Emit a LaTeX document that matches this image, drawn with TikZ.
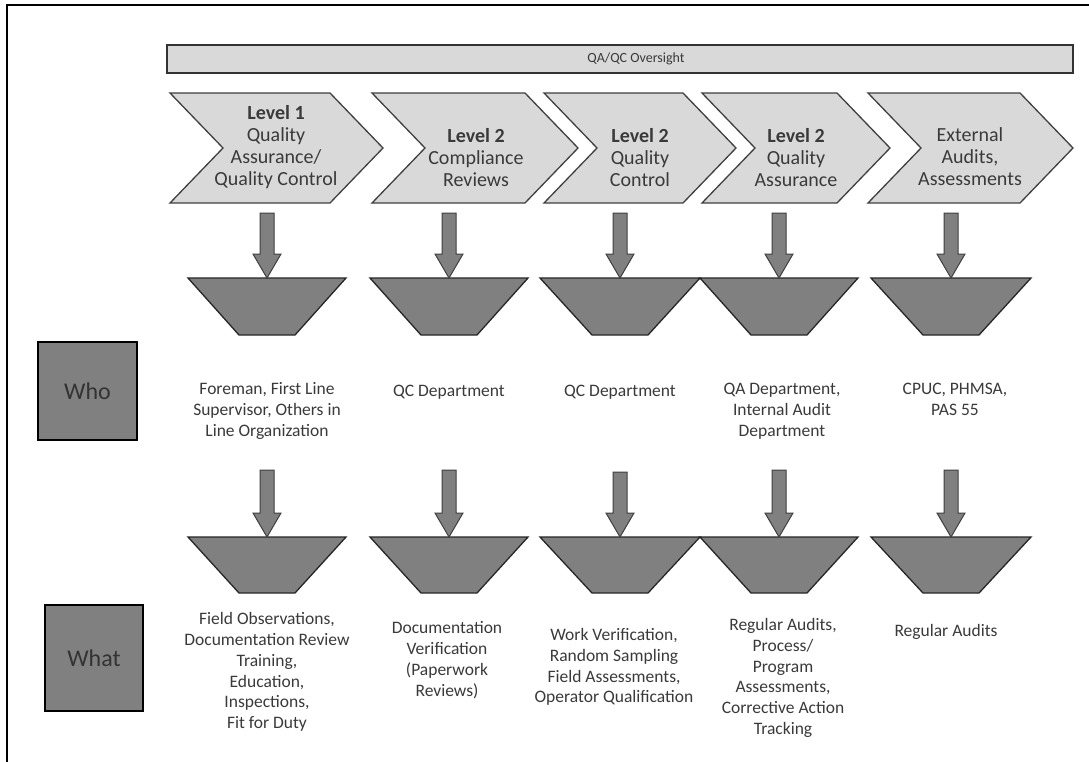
\documentclass[tikz,border=0pt]{standalone}
\usepackage{fontspec}
\setmainfont{Carlito}
\usetikzlibrary{calc}
\definecolor{chevfill}{HTML}{D9D9D9}
\definecolor{darkfill}{HTML}{808080}
\definecolor{edge}{HTML}{3F3F3F}
\definecolor{txt}{HTML}{3A3A3A}
\tikzset{
 chevshape/.style={draw=edge, fill=chevfill, line width=1.3pt, line join=miter},
 trapshape/.style={draw=black!85, fill=darkfill, line width=1.3pt},
 blockarrow/.style={draw=edge, fill=darkfill, line width=1pt},
 frameline/.style={draw=black, line width=2.2pt},
 region/.style={inner sep=0pt, outer sep=0pt, minimum height=#1},
 lbl/.style={align=center, text=txt, font=\fontsize{17.5}{20.8}\selectfont, inner sep=0pt},
 chevtext/.style={align=center, text=txt, font=\fontsize{20}{22}\selectfont, inner sep=0pt},
 rolebox/.style={draw=black, fill=darkfill, line width=1.5pt, text=black!80, font=\fontsize{24}{26}\selectfont, inner sep=0pt},
 oversight/.style={draw=black!80, fill=chevfill, line width=1.3pt, inner sep=0pt},
 barlabel/.style={font=\fontsize{14}{16}\selectfont, text=txt, inner sep=0pt}
}
\newcommand\chevron[1]{\draw[chevshape] (#1.north west) -- ($(#1.north east)+(-53pt,0pt)$) -- (#1.east) -- ($(#1.south east)+(-53pt,0pt)$) -- (#1.south west) -- ($(#1.west)+(53pt,0pt)$) -- cycle;}
\newcommand\funnel[1]{\draw[trapshape] (#1.north west) -- (#1.north east) -- ($(#1.south)+(28pt,0pt)$) -- ($(#1.south)+(-28pt,0pt)$) -- cycle;}
\newcommand\barrow[3]{\draw[blockarrow] let \p1=(#1), \p2=(#2) in
 (\x2-7pt,\y1-#3) -- (\x2+7pt,\y1-#3) -- (\x2+7pt,\y2+24pt) -- (\x2+14pt,\y2+24pt) -- (\x2,\y2) -- (\x2-14pt,\y2+24pt) -- (\x2-7pt,\y2+24pt) -- cycle;}
\begin{document}
\begin{tikzpicture}[x=1pt,y=-1pt]
\fill[white] (0,0) rectangle (1089,761);
\useasboundingbox (0,0) rectangle (1089,761);
\begin{scope}
\clip (0,0) rectangle (1089,761);
\draw[frameline] (7,5) rectangle (1200,900);
\end{scope}

% oversight bar
\node[oversight, minimum width=906pt, minimum height=28pt] (qa) at (620,59) {};
\node[barlabel] (qat) at (636,59) {QA/QC Oversight};

% chevron regions
\node[region=110pt, minimum width=213pt] (c1) at (276.5,148) {};
\node[region=110pt, minimum width=206pt] (c2) at (475,148) {};
\node[region=110pt, minimum width=192pt] (c3) at (640,148) {};
\node[region=110pt, minimum width=188pt] (c4) at (796,148) {};
\node[region=110pt, minimum width=205pt] (c5) at (970.5,148) {};
\chevron{c1}\chevron{c2}\chevron{c3}\chevron{c4}\chevron{c5}
\node[chevtext] (c1t) at (276,147) {\textbf{Level 1}\\Quality\\Assurance/\\Quality Control};
\node[chevtext] (c2t) at (476,158) {\textbf{Level 2}\\Compliance\\Reviews};
\node[chevtext] (c3t) at (640,158) {\textbf{Level 2}\\Quality\\Control};
\node[chevtext] (c4t) at (796,158) {\textbf{Level 2}\\Quality\\Assurance};
\node[chevtext] (c5t) at (970,157) {External\\Audits,\\Assessments};

% funnels row 1
\node[region=57pt, minimum width=158pt] (t1) at (267,306.5) {};
\node[region=57pt, minimum width=158pt] (t2) at (449,306.5) {};
\node[region=57pt, minimum width=160pt] (t3) at (620,306.5) {};
\node[region=57pt, minimum width=158pt] (t4) at (779,306.5) {};
\node[region=57pt, minimum width=160pt] (t5) at (951,306.5) {};
\funnel{t1}\funnel{t2}\funnel{t3}\funnel{t4}\funnel{t5}

% funnels row 2
\node[region=56pt, minimum width=158pt] (u1) at (267,565) {};
\node[region=56pt, minimum width=158pt] (u2) at (449,565) {};
\node[region=56pt, minimum width=160pt] (u3) at (620,565) {};
\node[region=56pt, minimum width=158pt] (u4) at (779,565) {};
\node[region=56pt, minimum width=160pt] (u5) at (951,565) {};
\funnel{u1}\funnel{u2}\funnel{u3}\funnel{u4}\funnel{u5}

% arrows row 1
\barrow{c1.south}{t1.north}{10pt}
\barrow{c2.south}{t2.north}{10pt}
\barrow{c3.south}{t3.north}{10pt}
\barrow{c4.south}{t4.north}{10pt}
\barrow{c5.south}{t5.north}{10pt}

% arrow start points row 2
\coordinate (s1) at (267,470);
\coordinate (s2) at (449,470);
\coordinate (s3) at (620,472);
\coordinate (s4) at (779,470);
\coordinate (s5) at (951,470);
\barrow{s1}{u1.north}{0pt}
\barrow{s2}{u2.north}{0pt}
\barrow{s3}{u3.north}{0pt}
\barrow{s4}{u4.north}{0pt}
\barrow{s5}{u5.north}{0pt}

% role boxes
\node[rolebox, minimum width=99pt, minimum height=98pt] (who) at (87.5,391) {Who};
\node[rolebox, minimum width=98pt, minimum height=106pt] (what) at (94,658) {What};

% who labels
\node[lbl] (w1) at (267,411) {Foreman, First Line\\Supervisor, Others in\\Line Organization};
\node[lbl] (w2) at (449,392) {QC Department};
\node[lbl] (w3) at (620,392) {QC Department};
\node[lbl] (w4) at (782,411) {QA Department,\\Internal Audit\\Department};
\node[lbl] (w5) at (955,399) {CPUC, PHMSA,\\PAS 55};

% what labels
\node[lbl] (x1) at (267,672) {Field Observations,\\Documentation Review\\Training,\\Education,\\Inspections,\\Fit for Duty};
\node[lbl] (x2) at (447,660) {Documentation\\Verification\\(Paperwork\\Reviews)};
\node[lbl] (x3) at (614,667) {Work Verification,\\Random Sampling\\Field Assessments,\\Operator Qualification};
\node[lbl] (x4) at (783,678) {Regular Audits,\\Process/\\Program\\Assessments,\\Corrective Action\\Tracking};
\node[lbl] (x5) at (946,632) {Regular Audits};
\end{tikzpicture}
\end{document}
